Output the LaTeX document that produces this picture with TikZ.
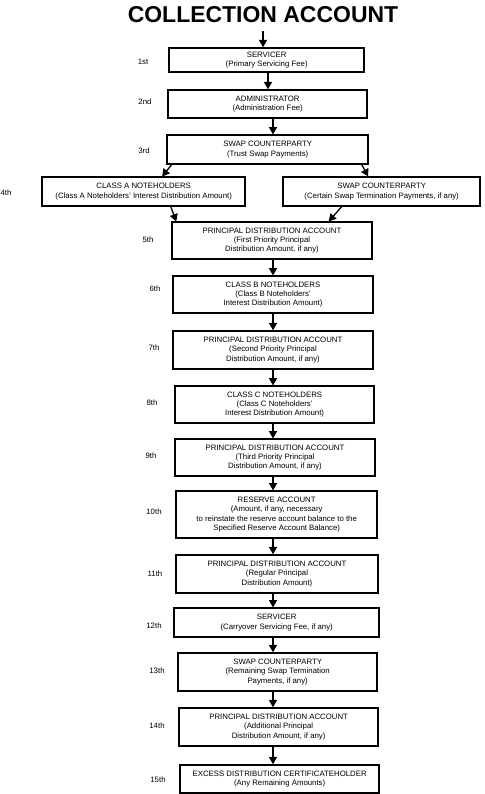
\documentclass[tikz,border=0pt]{standalone}
\usepackage{fontspec}
\setmainfont{Liberation Sans}
\usetikzlibrary{arrows.meta}

\tikzset{
	caja/.style={draw, line width=1.2pt, align=center, inner sep=0pt, font=\fontsize{6.66}{7.94}\selectfont},
	orden/.style={inner sep=0pt, font=\fontsize{6.66}{7.94}\selectfont},
	flecha/.style={line width=1.1pt, -{Triangle[width=0.24cm,length=0.22cm]}},
	titulo/.style={inner sep=0pt, font=\fontsize{19.6}{22}\selectfont\bfseries}
}

\begin{document}
\begin{tikzpicture}
		\useasboundingbox (0,0) rectangle (14.52,-23.82);
		
		%Titulo
		\node [titulo, anchor=base] (titulo) at (7.89,-0.69) {COLLECTION ACCOUNT};
		
		%Cajas
		\node [caja, minimum width=5.85cm, minimum height=0.72cm] (servicer) at (8.0,-1.8) {SERVICER\\(Primary Servicing Fee)};
		\node [caja, minimum width=5.97cm, minimum height=0.84cm] (administrator) at (8.03,-3.12) {ADMINISTRATOR\\(Administration Fee)};
		\node [caja, minimum width=6.03cm, minimum height=0.87cm] (swap) at (8.03,-4.49) {SWAP COUNTERPARTY\\(Trust Swap Payments)};
		\node [caja, minimum width=6.09cm, minimum height=0.87cm] (classa) at (4.31,-5.75) {CLASS A NOTEHOLDERS\\(Class A Noteholders’ Interest Distribution Amount)};
		\node [caja, minimum width=5.91cm, minimum height=0.87cm] (swapterm) at (11.45,-5.75) {SWAP COUNTERPARTY\\(Certain Swap Termination Payments, if any)};
		\node [caja, minimum width=6.0cm, minimum height=1.11cm] (pdaa) at (8.16,-7.22) {PRINCIPAL DISTRIBUTION ACCOUNT\\(First Priority Principal\\Distribution Amount, if any)};
		\node [caja, minimum width=6.0cm, minimum height=1.11cm] (classb) at (8.19,-8.84) {CLASS B NOTEHOLDERS\\(Class B Noteholders’\\Interest Distribution Amount)};
		\node [caja, minimum width=6.0cm, minimum height=1.14cm] (pdab) at (8.19,-10.5) {PRINCIPAL DISTRIBUTION ACCOUNT\\(Second Priority Principal\\Distribution Amount, if any)};
		\node [caja, minimum width=5.97cm, minimum height=1.11cm] (classc) at (8.24,-12.14) {CLASS C NOTEHOLDERS\\(Class C Noteholders’\\Interest Distribution Amount)};
		\node [caja, minimum width=6.0cm, minimum height=1.11cm] (pdac) at (8.25,-13.73) {PRINCIPAL DISTRIBUTION ACCOUNT\\(Third Priority Principal\\Distribution Amount, if any)};
		\node [caja, minimum width=6.03cm, minimum height=1.41cm] (reserve) at (8.3,-15.44) {RESERVE ACCOUNT\\(Amount, if any, necessary\\to reinstate the reserve account balance to the\\Specified Reserve Account Balance)};
		\node [caja, minimum width=6.06cm, minimum height=1.14cm] (pdad) at (8.31,-17.22) {PRINCIPAL DISTRIBUTION ACCOUNT\\(Regular Principal\\Distribution Amount)};
		\node [caja, minimum width=6.15cm, minimum height=0.87cm] (carryover) at (8.3,-18.68) {SERVICER\\(Carryover Servicing Fee, if any)};
		\node [caja, minimum width=5.97cm, minimum height=1.14cm] (swaprest) at (8.33,-20.16) {SWAP COUNTERPARTY\\(Remaining Swap Termination\\Payments, if any)};
		\node [caja, minimum width=5.97cm, minimum height=1.14cm] (pdae) at (8.36,-21.81) {PRINCIPAL DISTRIBUTION ACCOUNT\\(Additional Principal\\Distribution Amount, if any)};
		\node [caja, minimum width=5.97cm, minimum height=0.84cm] (excess) at (8.39,-23.37) {EXCESS DISTRIBUTION CERTIFICATEHOLDER\\(Any Remaining Amounts)};
		
		%Orden de pago
		\node [orden] (o1) at (4.29,-1.86) {1st};
		\node [orden] (o2) at (4.35,-3.06) {2nd};
		\node [orden] (o3) at (4.32,-4.53) {3rd};
		\node [orden] (o4) at (0.18,-5.79) {4th};
		\node [orden] (o5) at (4.44,-7.2) {5th};
		\node [orden] (o6) at (4.65,-8.67) {6th};
		\node [orden] (o7) at (4.62,-10.44) {7th};
		\node [orden] (o8) at (4.56,-12.09) {8th};
		\node [orden] (o9) at (4.53,-13.68) {9th};
		\node [orden] (o10) at (4.62,-15.36) {10th};
		\node [orden] (o11) at (4.65,-17.22) {11th};
		\node [orden] (o12) at (4.62,-18.78) {12th};
		\node [orden] (o13) at (4.71,-20.13) {13th};
		\node [orden] (o14) at (4.71,-21.78) {14th};
		\node [orden] (o15) at (4.74,-23.4) {15th};
		
		%Flechas
		\coordinate (ejea) at (8.04,0);
		\coordinate (eje) at (8.19,0);
		\draw [flecha, shorten <=0.24cm] (titulo.south) -- (servicer.north -| titulo);
		\draw [flecha] (servicer.south -| ejea) -- (administrator.north -| ejea);
		\draw [flecha] (administrator.south -| eje) -- (swap.north -| eje);
		\draw [flecha] ([xshift=0.15cm]swap.south west) -- ([xshift=0.555cm]classa.north);
		\draw [flecha] ([xshift=-0.21cm]swap.south east) -- ([xshift=-0.405cm]swapterm.north);
		\draw [flecha] ([xshift=-2.25cm]classa.south east) -- ([xshift=0.15cm]pdaa.north west);
		\draw [flecha] ([xshift=1.77cm]swapterm.south west) -- ([xshift=-1.32cm]pdaa.north east);
		\draw [flecha] (pdaa.south -| eje) -- (classb.north -| eje);
		\draw [flecha] (classb.south -| eje) -- (pdab.north -| eje);
		\draw [flecha] (pdab.south -| eje) -- (classc.north -| eje);
		\draw [flecha] (classc.south -| eje) -- (pdac.north -| eje);
		\draw [flecha] (pdac.south -| eje) -- (reserve.north -| eje);
		\draw [flecha] (reserve.south -| eje) -- (pdad.north -| eje);
		\draw [flecha] (pdad.south -| eje) -- (carryover.north -| eje);
		\draw [flecha] (carryover.south -| eje) -- (swaprest.north -| eje);
		\draw [flecha] (swaprest.south -| eje) -- (pdae.north -| eje);
		\draw [flecha] (pdae.south -| eje) -- (excess.north -| eje);
\end{tikzpicture}
\end{document}
